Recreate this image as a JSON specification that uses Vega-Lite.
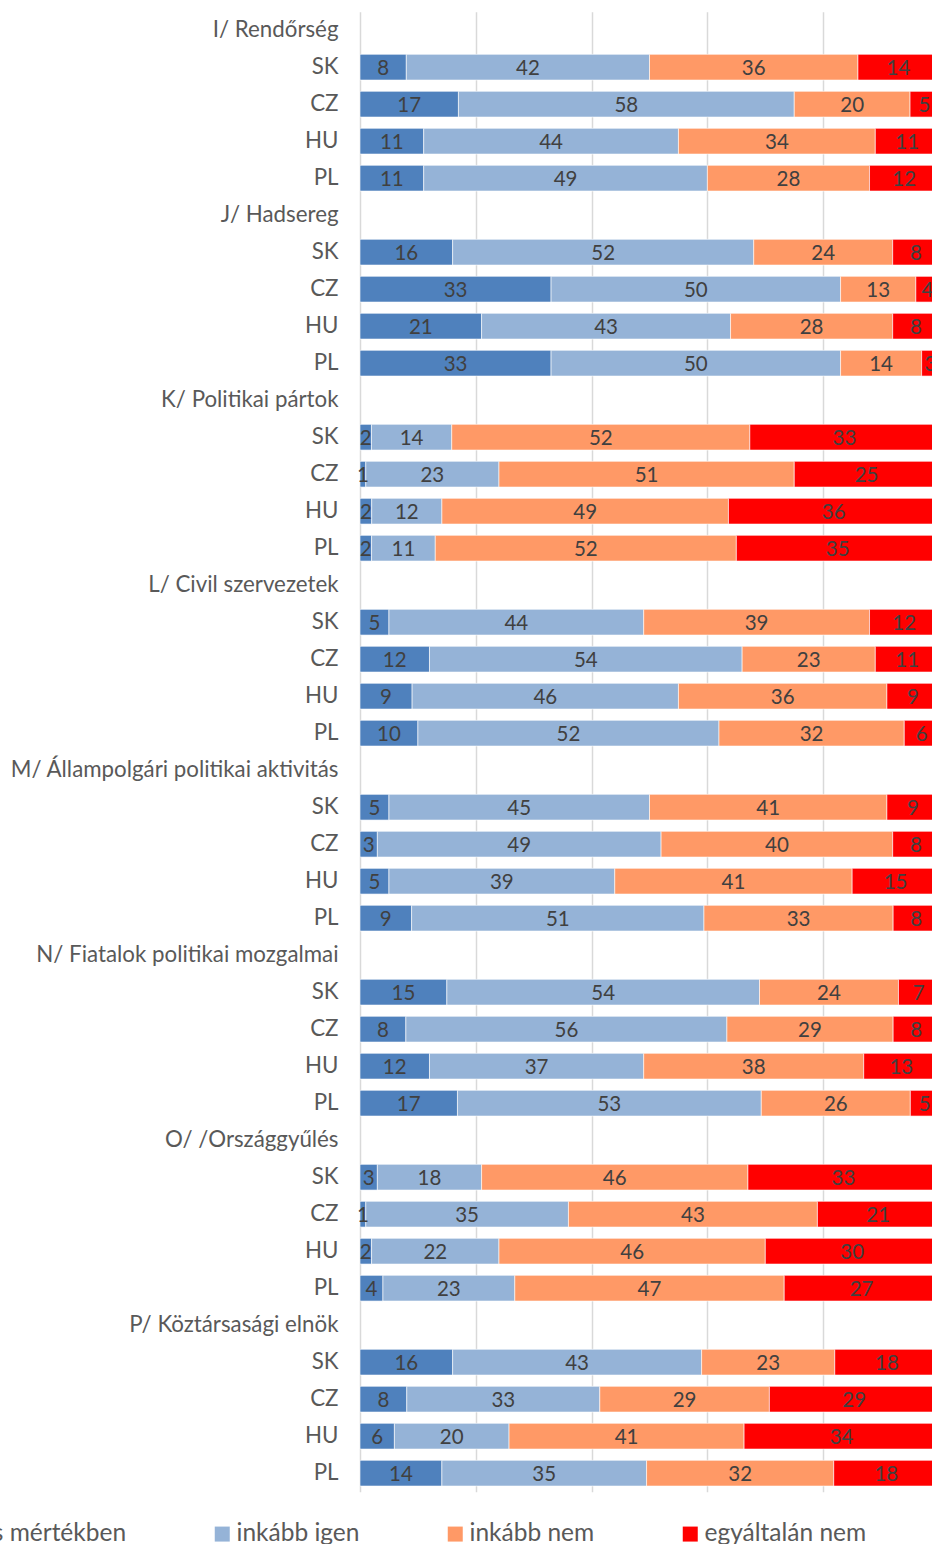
{
  "$schema": "https://vega.github.io/schema/vega-lite/v6.json",
  "width": 579,
  "height": 1480,
  "autosize": {"type": "none"},
  "padding": {"left": 360, "top": 11.7, "right": 0, "bottom": 52.3},
  "data": {
    "values": [
      {"k": "I|SK", "v1": 8, "v2": 42, "v3": 36, "v4": 14},
      {"k": "I|CZ", "v1": 17, "v2": 58, "v3": 20, "v4": 5},
      {"k": "I|HU", "v1": 11, "v2": 44, "v3": 34, "v4": 11},
      {"k": "I|PL", "v1": 11, "v2": 49, "v3": 28, "v4": 12},
      {"k": "J|SK", "v1": 16, "v2": 52, "v3": 24, "v4": 8},
      {"k": "J|CZ", "v1": 33, "v2": 50, "v3": 13, "v4": 4},
      {"k": "J|HU", "v1": 21, "v2": 43, "v3": 28, "v4": 8},
      {"k": "J|PL", "v1": 33, "v2": 50, "v3": 14, "v4": 3},
      {"k": "K|SK", "v1": 2, "v2": 14, "v3": 52, "v4": 33},
      {"k": "K|CZ", "v1": 1, "v2": 23, "v3": 51, "v4": 25},
      {"k": "K|HU", "v1": 2, "v2": 12, "v3": 49, "v4": 36},
      {"k": "K|PL", "v1": 2, "v2": 11, "v3": 52, "v4": 35},
      {"k": "L|SK", "v1": 5, "v2": 44, "v3": 39, "v4": 12},
      {"k": "L|CZ", "v1": 12, "v2": 54, "v3": 23, "v4": 11},
      {"k": "L|HU", "v1": 9, "v2": 46, "v3": 36, "v4": 9},
      {"k": "L|PL", "v1": 10, "v2": 52, "v3": 32, "v4": 6},
      {"k": "M|SK", "v1": 5, "v2": 45, "v3": 41, "v4": 9},
      {"k": "M|CZ", "v1": 3, "v2": 49, "v3": 40, "v4": 8},
      {"k": "M|HU", "v1": 5, "v2": 39, "v3": 41, "v4": 15},
      {"k": "M|PL", "v1": 9, "v2": 51, "v3": 33, "v4": 8},
      {"k": "N|SK", "v1": 15, "v2": 54, "v3": 24, "v4": 7},
      {"k": "N|CZ", "v1": 8, "v2": 56, "v3": 29, "v4": 8},
      {"k": "N|HU", "v1": 12, "v2": 37, "v3": 38, "v4": 13},
      {"k": "N|PL", "v1": 17, "v2": 53, "v3": 26, "v4": 5},
      {"k": "O|SK", "v1": 3, "v2": 18, "v3": 46, "v4": 33},
      {"k": "O|CZ", "v1": 1, "v2": 35, "v3": 43, "v4": 21},
      {"k": "O|HU", "v1": 2, "v2": 22, "v3": 46, "v4": 30},
      {"k": "O|PL", "v1": 4, "v2": 23, "v3": 47, "v4": 27},
      {"k": "P|SK", "v1": 16, "v2": 43, "v3": 23, "v4": 18},
      {"k": "P|CZ", "v1": 8, "v2": 33, "v3": 29, "v4": 29},
      {"k": "P|HU", "v1": 6, "v2": 20, "v3": 41, "v4": 34},
      {"k": "P|PL", "v1": 14, "v2": 35, "v3": 32, "v4": 18}
    ]
  },
  "transform": [
    {"fold": ["v1", "v2", "v3", "v4"], "as": ["key", "value"]}
  ],
  "encoding": {
    "y": {
      "field": "k",
      "type": "nominal",
      "title": null,
      "scale": {
        "domain": [
          "I/ Rendőrség", "I|SK", "I|CZ", "I|HU", "I|PL",
          "J/ Hadsereg", "J|SK", "J|CZ", "J|HU", "J|PL",
          "K/ Politikai pártok", "K|SK", "K|CZ", "K|HU", "K|PL",
          "L/ Civil szervezetek", "L|SK", "L|CZ", "L|HU", "L|PL",
          "M/ Állampolgári politikai aktivitás", "M|SK", "M|CZ", "M|HU", "M|PL",
          "N/ Fiatalok politikai mozgalmai", "N|SK", "N|CZ", "N|HU", "N|PL",
          "O/ /Országgyűlés", "O|SK", "O|CZ", "O|HU", "O|PL",
          "P/ Köztársasági elnök", "P|SK", "P|CZ", "P|HU", "P|PL"
        ],
        "paddingInner": 0.305,
        "paddingOuter": 0.1525
      },
      "axis": {
        "labelExpr": "indexof(datum.value, '|') >= 0 ? substring(datum.value, indexof(datum.value, '|') + 1) : datum.value",
        "ticks": false,
        "domain": false,
        "labelPadding": 22,
        "labelFont": "Lato",
        "labelFontSize": 22.3,
        "labelColor": "#595959",
        "labelLimit": 400
      }
    },
    "order": {"field": "key", "type": "ordinal", "sort": "ascending"}
  },
  "layer": [
    {
      "mark": {"type": "bar", "stroke": "#FFFFFF", "strokeWidth": 0.6},
      "encoding": {
        "x": {
          "field": "value",
          "type": "quantitative",
          "stack": "normalize",
          "title": null,
          "scale": {"domain": [0, 1], "nice": false},
          "axis": {
            "values": [0, 0.2, 0.4, 0.6, 0.8, 1],
            "labels": false,
            "ticks": false,
            "domain": false,
            "grid": true,
            "gridColor": "#D9D9D9",
            "gridWidth": 1.5
          }
        },
        "color": {
          "field": "key",
          "type": "nominal",
          "scale": {
            "domain": ["v1", "v2", "v3", "v4"],
            "range": ["#4F81BD", "#95B3D7", "#FF9966", "#FF0000"]
          },
          "legend": {
            "title": null,
            "orient": "none",
            "direction": "horizontal",
            "legendX": -440,
            "legendY": 1510,
            "labelExpr": "datum.label == 'v1' ? 'teljes mértékben' : datum.label == 'v2' ? 'inkább igen' : datum.label == 'v3' ? 'inkább nem' : 'egyáltalán nem'",
            "symbolType": "square",
            "symbolSize": 225,
            "symbolStrokeWidth": 0,
            "labelFont": "Lato",
            "labelFontSize": 24.5,
            "labelColor": "#595959",
            "labelOffset": 2,
            "columnPadding": 83,
            "labelLimit": 400,
            "padding": 0
          }
        }
      }
    },
    {
      "mark": {"type": "text", "font": "Lato", "fontSize": 20.5, "color": "#404040", "baseline": "middle", "dy": 1.5},
      "encoding": {
        "x": {"field": "value", "type": "quantitative", "stack": "normalize", "bandPosition": 0.5},
        "detail": {"field": "key", "type": "nominal"},
        "text": {"field": "value", "type": "quantitative"}
      }
    }
  ],
  "config": {
    "view": {"stroke": null},
    "background": "#FFFFFF"
  }
}
